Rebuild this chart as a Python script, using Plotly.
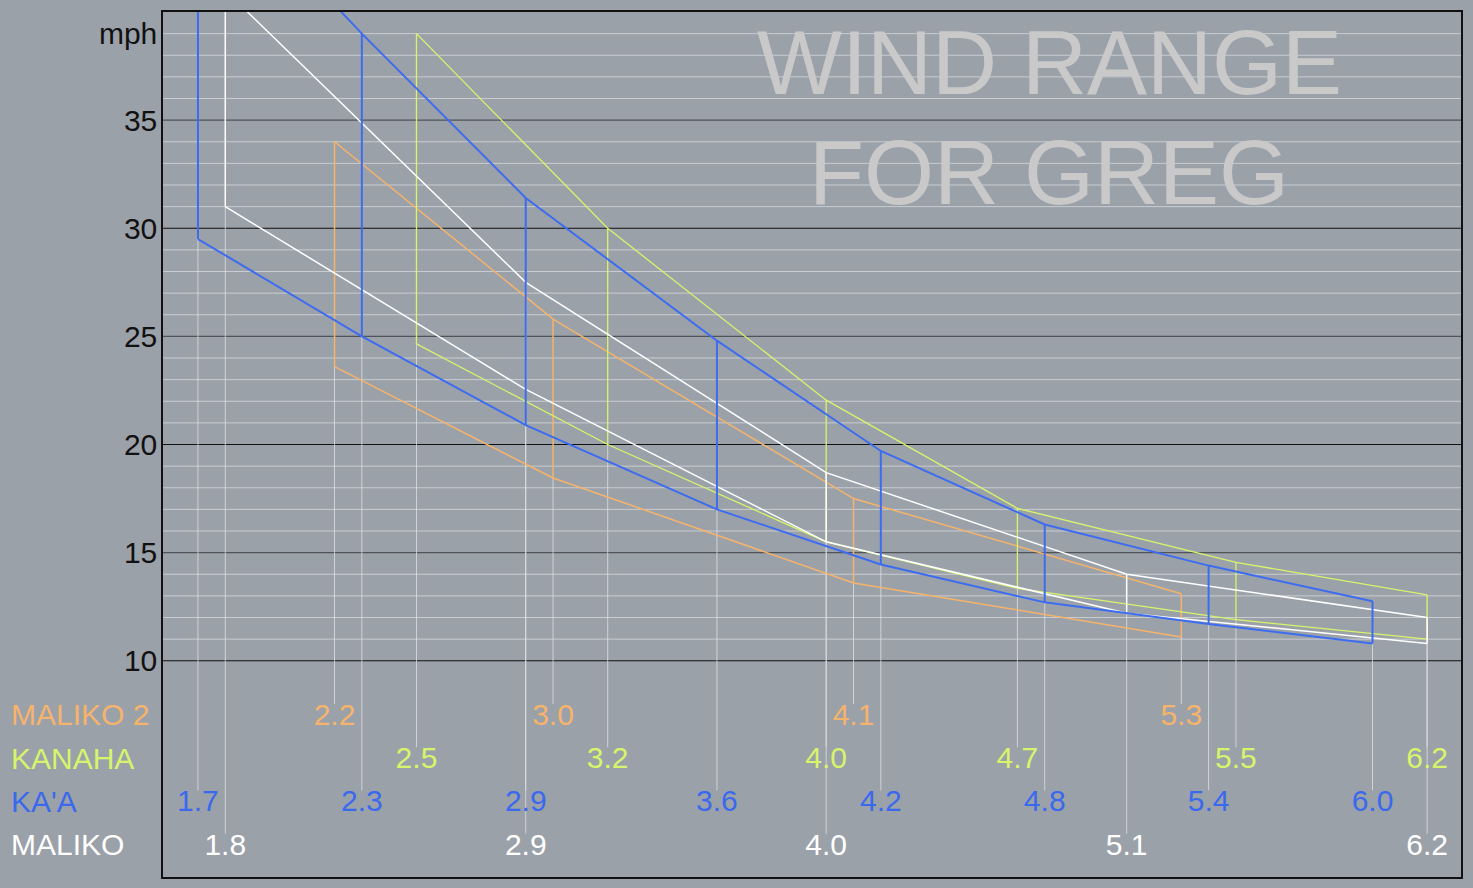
import plotly.graph_objects as go

# ----------------------------------------------------------------------------
# DATA: sail sizes (m2) and the wind range (mph) for each board
# ----------------------------------------------------------------------------

maliko2_sizes = [2.2, 3.0, 4.1, 5.3]
maliko2_top = [34.0, 25.8, 17.5, 13.1]
maliko2_bottom = [23.6, 18.45, 13.6, 11.1]

kanaha_sizes = [2.5, 3.2, 4.0, 4.7, 5.5, 6.2]
kanaha_top = [39.0, 30.0, 22.05, 17.05, 14.55, 13.05]
kanaha_bottom = [24.65, 20.0, 15.5, 13.35, 11.9, 11.0]

kaa_sizes = [1.7, 2.3, 2.9, 3.6, 4.2, 4.8, 5.4, 6.0]
kaa_top = [47.0, 39.0, 31.4, 24.8, 19.7, 16.3, 14.4, 12.75]
kaa_bottom = [29.5, 25.0, 20.9, 17.0, 14.45, 12.7, 11.7, 10.8]

maliko_sizes = [1.8, 2.9, 4.0, 5.1, 6.2]
maliko_top = [41.0, 27.5, 18.7, 14.0, 12.0]
maliko_bottom = [31.0, 22.55, 15.5, 12.2, 10.8]

board_names = ['MALIKO 2', 'KANAHA', "KA'A", 'MALIKO']
label_rows = [7.5, 5.5, 3.5, 1.5]

y_tick_vals = [10, 15, 20, 25, 30, 35, 39]
y_tick_text = ['10', '15', '20', '25', '30', '35', 'mph']
black_grid = [10, 20, 30]
dark_grid = [15, 25, 35]
light_grid = [v for v in range(11, 40) if v % 5 != 0]

title_lines = ['WIND RANGE', 'FOR GREG']

# ----------------------------------------------------------------------------
# STYLE
# ----------------------------------------------------------------------------

BG = '#9ba1a9'
FONT = 'Liberation Sans, Arial, sans-serif'
DROP = 'rgba(225,227,230,0.75)'

boards = [
    (maliko2_sizes, maliko2_top, maliko2_bottom, '#f6b36b', 1.5),
    (kanaha_sizes, kanaha_top, kanaha_bottom, '#d6f56c', 1.3),
    (maliko_sizes, maliko_top, maliko_bottom, '#ffffff', 1.5),
    (kaa_sizes, kaa_top, kaa_bottom, '#3d6cf0', 2.0),
]
label_colors = {'MALIKO 2': '#f6b36b', 'KANAHA': '#d6f56c',
                "KA'A": '#3a69ee', 'MALIKO': '#ffffff'}
rows = dict(zip(board_names, label_rows))
order = ['MALIKO 2', 'KANAHA', 'MALIKO', "KA'A"]

fig = go.Figure()

# thin drop lines from the bottom of each range down to its size label
for name, (sizes, top, bottom, color, width) in zip(order, boards):
    xs, ys = [], []
    for s, b in zip(sizes, bottom):
        xs += [s, s, None]
        ys += [b, rows[name] + 0.5, None]
    fig.add_trace(go.Scatter(x=xs, y=ys, mode='lines',
                             line=dict(color=DROP, width=1),
                             hoverinfo='skip'))

# the range outline of each board
for name, (sizes, top, bottom, color, width) in zip(order, boards):
    xs, ys = [], []
    for s, t, b in zip(sizes, top, bottom):
        xs += [s, s, None]
        ys += [b, t, None]
    fig.add_trace(go.Scatter(x=xs, y=ys, mode='lines',
                             line=dict(color=color, width=width),
                             hoverinfo='skip'))
    fig.add_trace(go.Scatter(x=sizes, y=top, mode='lines',
                             line=dict(color=color, width=width),
                             hoverinfo='skip'))
    fig.add_trace(go.Scatter(x=sizes, y=bottom, mode='lines',
                             line=dict(color=color, width=width),
                             hoverinfo='skip'))

# size labels
for name, (sizes, top, bottom, color, width) in zip(order, boards):
    fig.add_trace(go.Scatter(
        x=sizes, y=[rows[name] - 0.12] * len(sizes), mode='text',
        text=[f'{s:.1f}' for s in sizes], textposition='middle center',
        textfont=dict(family=FONT, size=30, color=label_colors[name]),
        hoverinfo='skip'))

# board names on the left
for name in board_names:
    fig.add_annotation(x=-0.1185, xref='paper', y=rows[name], yref='y',
                       text=name, showarrow=False, xanchor='left',
                       font=dict(family=FONT, size=30, color=label_colors[name]))

# title
for txt, yy in zip(title_lines, [37.65, 32.55]):
    fig.add_annotation(x=0.6828, xref='paper', y=yy, yref='y', text=txt,
                       showarrow=False, xanchor='center', yanchor='middle',
                       font=dict(family=FONT, size=90, color='#c9c9c9'))

# grid lines only over the wind range part of the chart
shapes = []
for vals, color, w in [(light_grid, '#c9cdd2', 1), (dark_grid, '#50545a', 1.2),
                       (black_grid, '#111111', 1.2)]:
    for v in vals:
        shapes.append(dict(type='line', xref='paper', x0=0, x1=1,
                           yref='y', y0=v, y1=v, layer='below',
                           line=dict(color=color, width=w)))

fig.update_layout(
    width=1473, height=888,
    margin=dict(l=163, r=11, t=10, b=11),
    paper_bgcolor=BG, plot_bgcolor=BG,
    showlegend=False, hovermode=False,
    shapes=shapes,
    xaxis=dict(range=[1.572, 6.324], showgrid=False, zeroline=False,
               showticklabels=False, ticks='', showline=True, mirror=True,
               linecolor='#111111', linewidth=1.5),
    yaxis=dict(range=[0, 40], showgrid=False, zeroline=False,
               tickvals=y_tick_vals, ticktext=y_tick_text, ticks='',
               ticklabelstandoff=-2,
               tickfont=dict(family=FONT, size=30, color='#111111'),
               showline=True, mirror=True, linecolor='#111111', linewidth=1.5),
)

fig.write_html('out.html', config={'displayModeBar': False},
               post_script="document.body.style.margin='0px';"
                           "document.body.style.background='" + BG + "';")
